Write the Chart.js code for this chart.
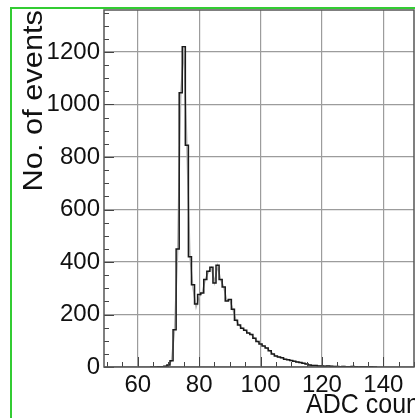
<!DOCTYPE html>
<html>
<head>
<meta charset="utf-8">
<script src="https://cdn.jsdelivr.net/npm/chart.js@4.4.0/dist/chart.umd.min.js"></script>
<style>
  html, body { margin: 0; padding: 0; background: #fff; overflow: hidden; }
  #wrap { position: relative; width: 415px; height: 418px; }
  #adcChart { position: absolute; left: 0; top: 0; }
  #pad { position: absolute; left: 10px; top: 7px; width: 500px; height: 500px;
         border-left: 2px solid #33cc33; border-top: 2px solid #33cc33; pointer-events: none; }
</style>
</head>
<body>
<div id="wrap">
  <canvas id="adcChart" width="415" height="418"></canvas>
  <div id="pad"></div>
</div>
<script>
// ADC spectrum, one bin per count (bin centres)
const adcBins = [
  64, 65, 66, 67, 68, 69, 70, 71, 72, 73, 74, 75, 76, 77, 78, 79,
  80, 81, 82, 83, 84, 85, 86, 87, 88, 89, 90, 91, 92, 93, 94, 95,
  96, 97, 98, 99, 100, 101, 102, 103, 104, 105, 106, 107, 108, 109, 110, 111,
  112, 113, 114, 115, 116, 117, 118, 119, 120, 121, 122, 123, 124, 125, 126, 127,
  128, 129, 130, 131, 132, 133, 134, 135, 136, 137, 138
];
// measured spectrum (black histogram)
const eventCounts = [
  0, 0, 0, 1, 1, 3, 8, 24, 142, 450, 1045, 1220, 845, 420, 313, 240,
  276, 282, 333, 365, 380, 320, 388, 333, 305, 251, 257, 220, 178, 160, 148, 140,
  130, 124, 110, 97, 88, 80, 72, 62, 50, 42, 38, 35, 30, 28, 25, 22,
  19, 17, 14, 11, 8, 6, 6, 4, 4, 3, 4, 3, 2, 2, 1, 2,
  1, 1, 2, 1, 0, 1, 1, 0, 1, 0, 0
];
// second spectrum, drawn as a grey polyline underneath
const refCounts = [
  0, 0, 0, 1, 1, 3, 8, 24, 142, 445, 1040, 1215, 845, 420, 300, 228,
  268, 282, 333, 362, 378, 322, 384, 333, 305, 253, 255, 220, 178, 160, 148, 140,
  130, 124, 110, 97, 88, 80, 72, 62, 50, 42, 38, 35, 30, 28, 25, 22,
  19, 17, 14, 11, 8, 6, 6, 4, 4, 3, 4, 3, 2, 2, 1, 2,
  1, 1, 2, 1, 0, 1, 1, 0, 1, 0, 0
];
const xTickValues = [60, 80, 100, 120, 140];
const yTickValues = [0, 200, 400, 600, 800, 1000, 1200];
const xTitle = 'ADC counts';
const yTitle = 'No. of events';

const FONT = '"Liberation Sans", Arial, Helvetica, sans-serif';

function toPoints(vals) {
  return adcBins.map((b, i) => ({ x: b, y: vals[i] }));
}

// frame, inward minor ticks and axis titles drawn on top of the chart
const rootFrame = {
  id: 'rootFrame',
  afterDraw(chart) {
    const { ctx, chartArea: a, scales: { x, y } } = chart;
    ctx.save();
    ctx.strokeStyle = '#444';
    ctx.lineWidth = 1;
    ctx.beginPath();
    for (let v = x.min; v <= x.max; v++) {
      if (v % 5 !== 0) continue;
      const px = Math.round(x.getPixelForValue(v)) + 0.5;
      const len = v % 20 === 0 ? 10 : 5;
      ctx.moveTo(px, a.bottom);
      ctx.lineTo(px, a.bottom - len);
    }
    for (let v = 0; v <= y.max; v += 50) {
      const py = Math.round(y.getPixelForValue(v)) + 0.5;
      const len = v % 200 === 0 ? 10 : 5;
      ctx.moveTo(a.left, py);
      ctx.lineTo(a.left + len, py);
    }
    ctx.stroke();

    ctx.strokeStyle = '#555';
    ctx.lineWidth = 1.5;
    ctx.strokeRect(a.left, a.top, a.right - a.left, a.bottom - a.top);

    ctx.fillStyle = '#111';
    ctx.textBaseline = 'alphabetic';
    // x title, right part runs off the pad
    ctx.save();
    ctx.translate(306, 413);
    ctx.scale(1, 1.12);
    ctx.font = `25px ${FONT}`;
    ctx.textAlign = 'left';
    ctx.fillText(xTitle, 0, 0);
    ctx.restore();
    // y title, ends at the top of the frame
    ctx.save();
    ctx.translate(42, a.top);
    ctx.scale(1, 1.1);
    ctx.rotate(-Math.PI / 2);
    ctx.font = `28px ${FONT}`;
    ctx.textAlign = 'right';
    ctx.fillText(yTitle, 0, 0);
    ctx.restore();
    ctx.restore();
  }
};

new Chart(document.getElementById('adcChart'), {
  type: 'line',
  data: {
    datasets: [
      {
        label: 'spectrum',
        data: toPoints(eventCounts),
        stepped: 'middle',
        borderColor: '#1a1a1a',
        borderWidth: 1.5,
        pointRadius: 0,
        fill: false,
        order: 0
      },
      {
        label: 'reference',
        data: toPoints(refCounts),
        tension: 0,
        borderColor: '#b4b4b4',
        borderWidth: 1.5,
        pointRadius: 0,
        fill: false,
        order: 1
      }
    ]
  },
  options: {
    responsive: false,
    devicePixelRatio: 1,
    animation: false,
    layout: { padding: { top: 10, right: 1, left: 0, bottom: 0 } },
    plugins: { legend: { display: false }, tooltip: { enabled: false } },
    scales: {
      x: {
        type: 'linear',
        min: 49,
        max: 150,
        afterBuildTicks: s => { s.ticks = xTickValues.map(v => ({ value: v })); },
        afterFit: s => { s.height = 51; s.paddingLeft = 0; s.paddingRight = 0; },
        ticks: { color: '#111', padding: 4, maxRotation: 0, font: { family: FONT, size: 24 },
                 callback: v => String(v) },
        grid: { color: '#9c9c9c', lineWidth: 1.2, drawTicks: false },
        border: { display: false }
      },
      y: {
        min: 0,
        max: 1360,
        afterBuildTicks: s => { s.ticks = yTickValues.map(v => ({ value: v })); },
        afterFit: s => { s.width = 104; s.paddingTop = 0; s.paddingBottom = 0; },
        ticks: { color: '#111', padding: 4, font: { family: FONT, size: 24 },
                 callback: v => String(v) },
        grid: { color: '#9c9c9c', lineWidth: 1.2, drawTicks: false },
        border: { display: false }
      }
    }
  },
  plugins: [rootFrame]
});
</script>
</body>
</html>
